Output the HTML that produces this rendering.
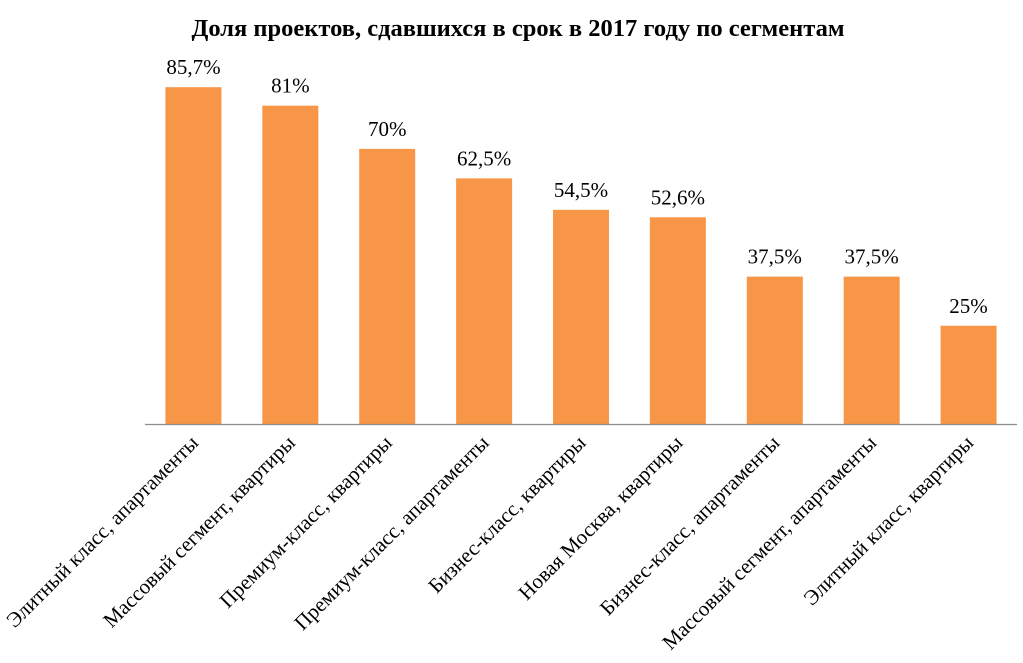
<!DOCTYPE html>
<html><head><meta charset="utf-8"><style>
body{margin:0;background:#fff;}
svg{display:block;font-family:"Liberation Serif","Noto Serif CJK SC",serif;}
</style></head><body>
<svg id="chart" width="1023" height="663">
<text x="518" y="36" text-anchor="middle" font-size="24.5" font-weight="bold">Доля проектов, сдавшихся в срок в 2017 году по сегментам</text>
<g id="bars"></g>
<line x1="145" y1="424.5" x2="1017" y2="424.5" stroke="#8c8c8c" stroke-width="1.2"/>
</svg>
<script>
const categories=["Элитный класс, апартаменты","Массовый сегмент, квартиры","Премиум-класс, квартиры","Премиум-класс, апартаменты","Бизнес-класс, квартиры","Новая Москва, квартиры","Бизнес-класс, апартаменты","Массовый сегмент, апартаменты","Элитный класс, квартиры"];
const values=[85.7,81,70,62.5,54.5,52.6,37.5,37.5,25];
const valueLabels=["85,7%","81%","70%","62,5%","54,5%","52,6%","37,5%","37,5%","25%"];
const NS="http://www.w3.org/2000/svg";
const x0=145,x1=1017,base=424,pxPer=3.93,bw=56;
const slot=(x1-x0)/categories.length;
const xC=i=>x0+slot*(i+0.5);
const yV=v=>base-v*pxPer;
const g=document.getElementById('bars');
categories.forEach((c,i)=>{
 const r=document.createElementNS(NS,'rect');
 r.setAttribute('x',xC(i)-bw/2);r.setAttribute('y',yV(values[i]));
 r.setAttribute('width',bw);r.setAttribute('height',base-yV(values[i]));
 r.setAttribute('fill','#f79646');
 
 
 g.appendChild(r);
 const t=document.createElementNS(NS,'text');
 t.setAttribute('x',xC(i));t.setAttribute('y',yV(values[i])-13);
 t.setAttribute('text-anchor','middle');t.setAttribute('font-size','21');
 t.textContent=valueLabels[i];
 
 
 g.appendChild(t);
 const l=document.createElementNS(NS,'text');
 const lx=xC(i)+6,ly=base+20;
 l.setAttribute('x',lx);l.setAttribute('y',ly);
 l.setAttribute('text-anchor','end');l.setAttribute('font-size','21');
 l.setAttribute('transform','rotate(-45 '+lx+' '+ly+')');
 l.textContent=c;
 
 
 g.appendChild(l);
});
</script>
</body></html>
